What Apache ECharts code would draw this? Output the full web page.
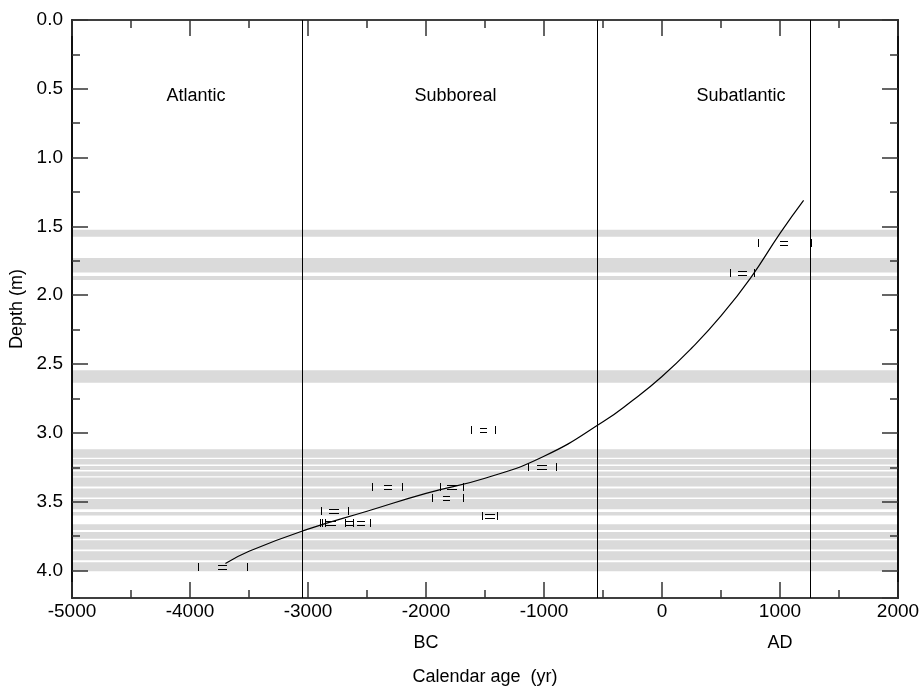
<!DOCTYPE html>
<html>
<head>
<meta charset="utf-8">
<script src="https://cdn.jsdelivr.net/npm/echarts@6/dist/echarts.min.js"></script>
<style>
  html, body { margin: 0; background: #fff; }
  #chart { width: 924px; height: 690px; }
</style>
</head>
<body>
<div id="chart"></div>
<script>
// grey depth bands (m), [top, bottom]
var bands = [
    [1.525, 1.575], [1.73, 1.835], [1.86, 1.89], [2.545, 2.635],
    [3.12, 3.18], [3.19, 3.23], [3.24, 3.27], [3.28, 3.315], [3.325, 3.39],
    [3.405, 3.47], [3.48, 3.555], [3.575, 3.60], [3.665, 3.705], [3.72, 3.77],
    [3.78, 3.848], [3.86, 3.925], [3.94, 4.005]
];
// pollen zone boundaries (yr) and names
var boundaries = [-3050, -550, 1250];
var periods = ['Atlantic', 'Subboreal', 'Subatlantic'];
var periodX = [-3950, -1750, 670];
var periodDepth = 0.55;
// era labels under the x axis
var eras = ['BC', 'AD'];
var eraX = [-2000, 1000];
// age-depth model [age, depth]
var curve = [
    [-3700, 3.95], [-3500, 3.86], [-3000, 3.70], [-2500, 3.57], [-2000, 3.44],
    [-1500, 3.33], [-1000, 3.17], [-500, 2.92], [-250, 2.765], [0, 2.59],
    [250, 2.385], [500, 2.15], [750, 1.875], [1000, 1.55], [1200, 1.31]
];
// calibrated dates: [2s from, 1s from, 1s to, 2s to, depth]
var dates = [
    [-1615, -1545, -1485, -1415, 2.98],
    [-1135, -1060, -975, -900, 3.25],
    [-2460, -2360, -2290, -2200, 3.39],
    [-1880, -1820, -1740, -1685, 3.39],
    [-1945, -1855, -1795, -1690, 3.47],
    [-1525, -1500, -1415, -1395, 3.605],
    [-2890, -2820, -2735, -2665, 3.565],
    [-2898, -2585, -2517, -2475, 3.655],
    [-2856, -2847, -2763, -2686, 3.655],
    [-2881, -2686, -2619, -2619, 3.655],
    [-3930, -3760, -3690, -3515, 3.975],
    [810, 1000, 1070, 1265, 1.62],
    [575, 645, 720, 780, 1.84]
];

var font = '"Liberation Sans", Arial, sans-serif';
var tickStyle = {color: '#333', width: 1.5};

function crisp(v) {
    return Math.round(v) + 0.5;
}

function xAxisOf(pos, withLabels) {
    return {
        type: 'value',
        position: pos,
        min: -5000,
        max: 2000,
        interval: 1000,
        z: 10,
        name: withLabels ? 'Calendar age  (yr)' : '',
        nameLocation: 'middle',
        nameGap: 70,
        nameTextStyle: {color: '#000', fontSize: 18, fontFamily: font},
        axisLine: {show: true, onZero: false, lineStyle: {color: '#000', width: 1.5}},
        axisTick: {show: true, inside: true, length: 16, lineStyle: tickStyle},
        minorTick: {show: true, splitNumber: 2, length: 8, lineStyle: tickStyle},
        splitLine: {show: false},
        axisLabel: {
            show: withLabels, margin: 4, color: '#000', fontSize: 19, fontFamily: font,
            formatter: function (v) { return String(v); }
        }
    };
}

function yAxisOf(pos, interval, len, withLabels) {
    return {
        type: 'value',
        position: pos,
        inverse: true,
        min: 0,
        max: 4.2,
        interval: interval,
        z: 10,
        name: withLabels ? 'Depth (m)' : '',
        nameLocation: 'middle',
        nameGap: 33,
        nameTextStyle: {color: '#000', fontSize: 18, fontFamily: font},
        axisLine: {show: true, onZero: false, lineStyle: {color: '#000', width: 1.5}},
        axisTick: {show: true, inside: true, length: len, lineStyle: tickStyle},
        splitLine: {show: false},
        axisLabel: {
            show: withLabels, margin: 9, color: '#000', fontSize: 19, fontFamily: font,
            showMaxLabel: false,
            formatter: function (v) { return v.toFixed(1); }
        }
    };
}

var chart = echarts.init(document.getElementById('chart'));
chart.setOption({
    animation: false,
    backgroundColor: '#fff',
    grid: {left: 72, right: 26, top: 20, bottom: 92, containLabel: false, outerBoundsMode: 'none'},
    xAxis: [xAxisOf('bottom', true), xAxisOf('top', false)],
    yAxis: [
        yAxisOf('left', 0.5, 16, true), yAxisOf('left', 0.25, 8, false),
        yAxisOf('right', 0.5, 16, false), yAxisOf('right', 0.25, 8, false)
    ],
    series: [
        {
            // grey bands
            type: 'custom',
            z: 1,
            silent: true,
            data: bands,
            renderItem: function (params, api) {
                var cs = params.coordSys;
                var y0 = api.coord([0, api.value(0)])[1];
                var y1 = api.coord([0, api.value(1)])[1];
                return {
                    type: 'rect',
                    shape: {x: cs.x, y: Math.min(y0, y1), width: cs.width, height: Math.abs(y1 - y0)},
                    style: {fill: '#dadada'}
                };
            }
        },
        {
            // zone boundaries
            type: 'custom',
            z: 3,
            silent: true,
            data: boundaries.map(function (v) { return [v, 0]; }),
            renderItem: function (params, api) {
                var cs = params.coordSys;
                var x = crisp(api.coord([api.value(0), 0])[0]);
                return {
                    type: 'line',
                    shape: {x1: x, y1: cs.y, x2: x, y2: cs.y + cs.height},
                    style: {stroke: '#000', lineWidth: 1}
                };
            }
        },
        {
            // age-depth curve
            type: 'line',
            z: 4,
            data: curve,
            smooth: 0.5,
            showSymbol: false,
            lineStyle: {color: '#000', width: 1.2}
        },
        {
            // calibrated date ranges
            type: 'custom',
            z: 5,
            silent: true,
            data: dates,
            dimensions: ['a', 'b', 'c', 'd', 'depth'],
            encode: {x: [0, 1, 2, 3], y: 4},
            renderItem: function (params, api) {
                var y = Math.round(api.coord([0, api.value(4)])[1]);
                var xs = [0, 1, 2, 3].map(function (i) {
                    return crisp(api.coord([api.value(i), 0])[0]);
                });
                var st = {stroke: '#000', lineWidth: 1};
                return {
                    type: 'group',
                    children: [
                        {type: 'line', shape: {x1: xs[0], y1: y - 4, x2: xs[0], y2: y + 4}, style: st},
                        {type: 'line', shape: {x1: xs[3], y1: y - 4, x2: xs[3], y2: y + 4}, style: st},
                        {type: 'line', shape: {x1: xs[1] - 0.5, y1: y - 1.5, x2: xs[2] - 0.5, y2: y - 1.5}, style: st},
                        {type: 'line', shape: {x1: xs[1] - 0.5, y1: y + 2.5, x2: xs[2] - 0.5, y2: y + 2.5}, style: st}
                    ]
                };
            }
        }
    ]
});

// zone names inside the plot and BC / AD under the tick labels
var labels = periods.map(function (p, i) {
    var pt = chart.convertToPixel({xAxisIndex: 0, yAxisIndex: 0}, [periodX[i], periodDepth]);
    return {
        type: 'text', x: pt[0], y: pt[1], z: 20,
        style: {text: p, fill: '#000', font: '18px ' + font, textAlign: 'center', textVerticalAlign: 'middle'}
    };
}).concat(eras.map(function (t, i) {
    return {
        type: 'text',
        x: chart.convertToPixel({xAxisIndex: 0}, eraX[i]),
        y: 643,
        z: 20,
        style: {text: t, fill: '#000', font: '18px ' + font, textAlign: 'center', textVerticalAlign: 'middle'}
    };
}));
chart.setOption({graphic: labels});
</script>
</body>
</html>
